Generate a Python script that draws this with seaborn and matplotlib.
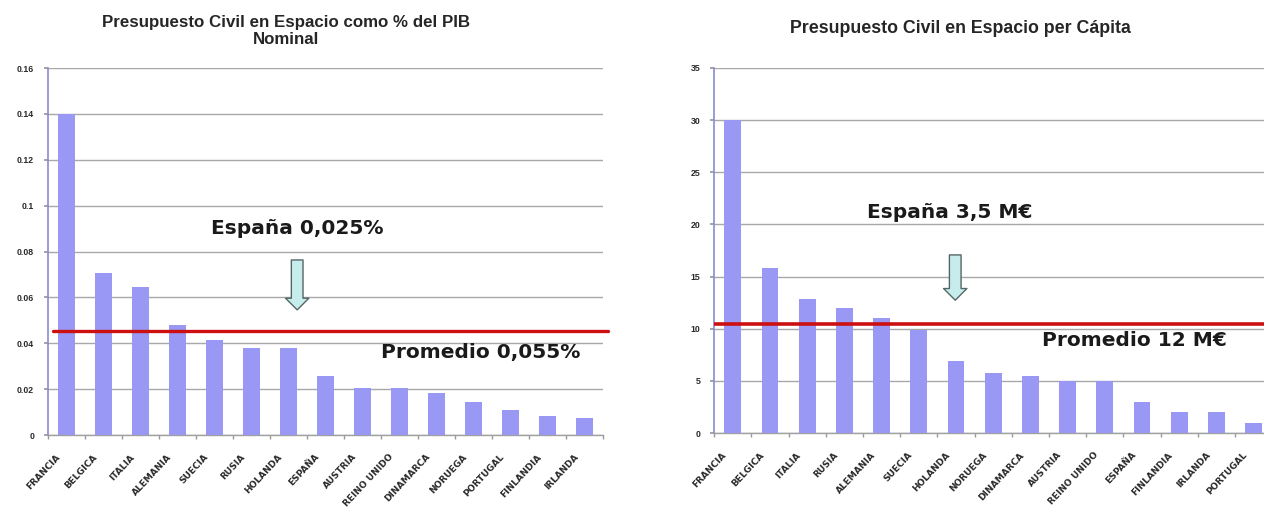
import matplotlib
matplotlib.use("Agg")
import matplotlib.pyplot as plt
import matplotlib.transforms as mtransforms
import seaborn as sns
import pandas as pd
import numpy as np
from matplotlib.ticker import FixedLocator, FuncFormatter

# ---- data ----
paises_pib = ["FRANCIA", "BELGICA", "ITALIA", "ALEMANIA", "SUECIA", "RUSIA", "HOLANDA",
              "ESPAÑA", "AUSTRIA", "REINO UNIDO", "DINAMARCA", "NORUEGA", "PORTUGAL",
              "FINLANDIA", "IRLANDA"]
valores_pib = [0.14, 0.0705, 0.0645, 0.048, 0.0413, 0.038, 0.038,
               0.0257, 0.0205, 0.0203, 0.0183, 0.0143, 0.011, 0.0083, 0.0074]
promedio_pib = 0.0453

paises_cap = ["FRANCIA", "BELGICA", "ITALIA", "RUSIA", "ALEMANIA", "SUECIA", "HOLANDA",
              "NORUEGA", "DINAMARCA", "AUSTRIA", "REINO UNIDO", "ESPAÑA", "FINLANDIA",
              "IRLANDA", "PORTUGAL"]
valores_cap = [30.0, 15.8, 12.9, 12.0, 11.0, 9.9, 6.9, 5.8, 5.5, 5.0, 5.0, 3.0, 2.0, 2.0, 1.0]
promedio_cap = 10.5

titulo_pib = "Presupuesto Civil en Espacio como % del PIB\nNominal"
titulo_cap = "Presupuesto Civil en Espacio per Cápita"
yticks_pib = [0, 0.02, 0.04, 0.06, 0.08, 0.1, 0.12, 0.14, 0.16]
yticks_cap = [0, 5, 10, 15, 20, 25, 30, 35]

sns.set_theme(style="white")
plt.rcParams["font.family"] = ["Liberation Sans", "DejaVu Sans"]

BAR = "#9999f5"
GRID = "#a8a8a8"
RED = "#cc1010"

fig = plt.figure(figsize=(12.64, 5.15), dpi=100)
ax1 = fig.add_axes([0.038, 0.1553, 0.439, 0.7126])
ax2 = fig.add_axes([0.565, 0.159, 0.4415, 0.709])


def style(ax, cats, vals, yticks, title, fmt, title_pos, title_size):
    df = pd.DataFrame({"pais": cats, "valor": vals})
    sns.barplot(data=df, x="pais", y="valor", ax=ax, color=BAR, width=0.45,
                saturation=1, edgecolor="none", zorder=3)
    ax.set_xlim(-0.5, len(cats) - 0.5)
    ax.set_ylim(yticks[0], yticks[-1])
    ax.yaxis.set_major_locator(FixedLocator(yticks))
    ax.yaxis.set_major_formatter(FuncFormatter(fmt))
    ax.grid(axis="y", color=GRID, lw=1.0, zorder=0)
    ax.set_axisbelow(True)
    for s in ["top", "right"]:
        ax.spines[s].set_visible(False)
    ax.spines["left"].set_color("#8a8ad0")
    ax.spines["left"].set_linewidth(1.2)
    ax.spines["bottom"].set_color("#a0a0a0")
    ax.spines["bottom"].set_linewidth(1.0)
    ax.set_xlabel("")
    ax.set_ylabel("")
    ax.set_xticks(np.arange(-0.5, len(cats), 1.0), minor=True)
    ax.tick_params(axis="x", which="major", length=0, pad=6)
    ax.tick_params(axis="x", which="minor", length=3, color="#999999", direction="out",
                   bottom=True)
    ax.tick_params(axis="y", length=3, color="#999999", left=True, direction="out",
                   labelsize=6.3, pad=7)
    ax.set_xticks(range(len(cats)))
    ax.set_xticklabels(cats, rotation=47, ha="right", va="top", rotation_mode="anchor",
                       fontsize=6.5, fontweight="bold", color="#2a2a2a",
                       family=["DejaVu Sans"])
    off = mtransforms.ScaledTranslation(-11 / 100, -9 / 100, fig.dpi_scale_trans)
    for tk in ax.xaxis.get_major_ticks():
        tk.label1.set_transform(tk.label1.get_transform() + off)
    for t in ax.get_yticklabels():
        t.set_fontweight("bold")
        t.set_color("#2a2a2a")
    fig.text(title_pos[0], title_pos[1], title, ha="center", va="center",
             fontsize=title_size, fontweight="bold", color="#262626", linespacing=1.1)


def fmt_pib(v, pos):
    if v == 0:
        return "0"
    return f"{v:.2f}".rstrip("0")


def fmt_cap(v, pos):
    return f"{int(v)}"


style(ax1, paises_pib, valores_pib, yticks_pib, titulo_pib, fmt_pib, (0.226, 0.94), 12.2)
style(ax2, paises_cap, valores_cap, yticks_cap, titulo_cap, fmt_cap, (0.7595, 0.945), 12.8)

# average lines
ax1.axhline(promedio_pib, xmin=0.009, xmax=1.01, color=RED, lw=2.4, zorder=5, clip_on=False)
ax2.axhline(promedio_cap, xmin=0.0, xmax=1.0, color=RED, lw=2.6, zorder=5)

# annotations
ann = dict(ha="center", va="center", fontsize=14.5, fontweight="bold", color="#1a1a1a",
           zorder=6, family=["DejaVu Sans"])
ax1.text(0.45, 0.564, "España 0,025%", transform=ax1.transAxes, **ann)
ax1.text(0.78, 0.225, "Promedio 0,055%", transform=ax1.transAxes, **ann)
ax2.text(0.423, 0.603, "España 3,5 M€", transform=ax2.transAxes, **ann)
ax2.text(0.753, 0.254, "Promedio 12 M€", transform=ax2.transAxes, **ann)

for ax, xa, ytop, ytip in [(ax1, 0.449, 0.477, 0.341), (ax2, 0.432, 0.488, 0.364)]:
    ax.annotate("", xy=(xa, ytip), xytext=(xa, ytop), xycoords="axes fraction",
                textcoords="axes fraction", zorder=7,
                arrowprops=dict(arrowstyle="simple,head_length=0.6,head_width=1.2,tail_width=0.6",
                                fc="#c6ecec", ec="#556666", lw=1.0, mutation_scale=14,
                                shrinkA=0, shrinkB=0))

fig.savefig("out.png", dpi=100)
